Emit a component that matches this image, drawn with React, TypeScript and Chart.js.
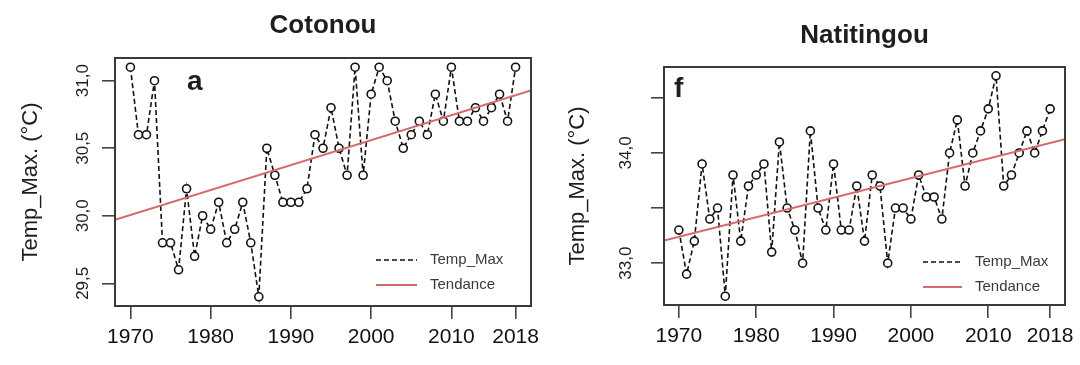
import React, { useEffect, useRef } from "react";
import { Chart, registerables } from "chart.js";

Chart.register(...registerables);

// ---------- data ----------
const years = [
  1970, 1971, 1972, 1973, 1974, 1975, 1976, 1977, 1978, 1979,
  1980, 1981, 1982, 1983, 1984, 1985, 1986, 1987, 1988, 1989,
  1990, 1991, 1992, 1993, 1994, 1995, 1996, 1997, 1998, 1999,
  2000, 2001, 2002, 2003, 2004, 2005, 2006, 2007, 2008, 2009,
  2010, 2011, 2012, 2013, 2014, 2015, 2016, 2017, 2018,
];

const cotonouTempMax = [
  31.1, 30.6, 30.6, 31.0, 29.8, 29.8, 29.6, 30.2, 29.7, 30.0,
  29.9, 30.1, 29.8, 29.9, 30.1, 29.8, 29.4, 30.5, 30.3, 30.1,
  30.1, 30.1, 30.2, 30.6, 30.5, 30.8, 30.5, 30.3, 31.1, 30.3,
  30.9, 31.1, 31.0, 30.7, 30.5, 30.6, 30.7, 30.6, 30.9, 30.7,
  31.1, 30.7, 30.7, 30.8, 30.7, 30.8, 30.9, 30.7, 31.1,
];

const natitingouTempMax = [
  33.3, 32.9, 33.2, 33.9, 33.4, 33.5, 32.7, 33.8, 33.2, 33.7,
  33.8, 33.9, 33.1, 34.1, 33.5, 33.3, 33.0, 34.2, 33.5, 33.3,
  33.9, 33.3, 33.3, 33.7, 33.2, 33.8, 33.7, 33.0, 33.5, 33.5,
  33.4, 33.8, 33.6, 33.6, 33.4, 34.0, 34.3, 33.7, 34.0, 34.2,
  34.4, 34.7, 33.7, 33.8, 34.0, 34.2, 34.0, 34.2, 34.4,
];

const xTickValues = [1970, 1980, 1990, 2000, 2010, 2018];
const xTickLabels = ["1970", "1980", "1990", "2000", "2010", "2018"];

const cotonouYTicks = [29.5, 30.0, 30.5, 31.0];
const cotonouYTickLabels = ["29,5", "30,0", "30,5", "31,0"];

const natitingouYTicks = [33.0, 33.5, 34.0, 34.5];
const natitingouYTickLabels = ["33,0", "", "34,0", ""];

const panelTitles = ["Cotonou", "Natitingou"];
const panelLetters = ["a", "f"];
const yAxisTitle = "Temp_Max. (°C)";
const seriesName = "Temp_Max";
const trendName = "Tendance";

// ---------- helpers ----------
const FONT = "'Liberation Sans', Arial, sans-serif";
const TREND_COLOR = "#d66a6a";

function rRange(vals: number[]): [number, number] {
  const lo = Math.min(...vals);
  const hi = Math.max(...vals);
  const d = (hi - lo) * 0.04;
  return [lo - d, hi + d];
}

function linearFit(xs: number[], ys: number[]) {
  const n = xs.length;
  const mx = xs.reduce((a, b) => a + b, 0) / n;
  const my = ys.reduce((a, b) => a + b, 0) / n;
  let sxy = 0;
  let sxx = 0;
  for (let i = 0; i < n; i++) {
    sxy += (xs[i] - mx) * (ys[i] - my);
    sxx += (xs[i] - mx) * (xs[i] - mx);
  }
  const slope = sxy / sxx;
  return (x: number) => my + slope * (x - mx);
}

const decorPlugin = {
  id: "rDecor",
  afterDraw(chart: any, _args: any, o: any) {
    const ctx = chart.ctx;
    const ca = chart.chartArea;
    const yScale = chart.scales.y;
    ctx.save();

    // box
    ctx.strokeStyle = "#3a3a3a";
    ctx.lineWidth = 2;
    ctx.setLineDash([]);
    ctx.strokeRect(ca.left, ca.top, ca.right - ca.left, ca.bottom - ca.top);

    // title
    ctx.fillStyle = "#1e1e1e";
    ctx.font = `bold 26px ${FONT}`;
    ctx.textAlign = "center";
    ctx.textBaseline = "middle";
    ctx.fillText(o.title, (ca.left + ca.right) / 2, o.titleY);

    // panel letter
    ctx.font = `bold 28px ${FONT}`;
    ctx.textAlign = "left";
    ctx.textBaseline = "alphabetic";
    ctx.fillText(o.letter, o.letterX, o.letterY);

    // y tick labels (rotated, R style)
    ctx.font = `17px ${FONT}`;
    ctx.fillStyle = "#1e1e1e";
    ctx.textAlign = "center";
    ctx.textBaseline = "middle";
    yScale.ticks.forEach((t: any, i: number) => {
      const lab = o.yLabels[i];
      if (!lab) return;
      const py = yScale.getPixelForValue(t.value);
      ctx.save();
      ctx.translate(o.yTickLabelX, py);
      ctx.rotate(-Math.PI / 2);
      ctx.fillText(lab, 0, 0);
      ctx.restore();
    });

    // y axis title
    ctx.font = `22px ${FONT}`;
    ctx.save();
    ctx.translate(o.yTitleX, (ca.top + ca.bottom) / 2);
    ctx.rotate(-Math.PI / 2);
    ctx.fillText(yAxisTitle, 0, 0);
    ctx.restore();

    // legend
    const lg = o.legend;
    ctx.lineWidth = 1.7;
    ctx.strokeStyle = "#111";
    ctx.setLineDash([5, 3]);
    ctx.beginPath();
    ctx.moveTo(lg.x1, lg.y1);
    ctx.lineTo(lg.x2, lg.y1);
    ctx.stroke();
    ctx.setLineDash([]);
    ctx.strokeStyle = TREND_COLOR;
    ctx.lineWidth = 2;
    ctx.beginPath();
    ctx.moveTo(lg.x1, lg.y2);
    ctx.lineTo(lg.x2, lg.y2);
    ctx.stroke();
    ctx.font = `15px ${FONT}`;
    ctx.fillStyle = "#3a3a3a";
    ctx.textAlign = "left";
    ctx.textBaseline = "middle";
    ctx.fillText(seriesName, lg.tx, lg.y1);
    ctx.fillText(trendName, lg.tx, lg.y2);

    ctx.restore();
  },
};

type PanelProps = {
  values: number[];
  yTicks: number[];
  yLabels: string[];
  title: string;
  letter: string;
  pad: { top: number; right: number; bottom: number; left: number };
  decor: any;
};

function Panel({ values, yTicks, yLabels, title, letter, pad, decor }: PanelProps) {
  const ref = useRef<HTMLCanvasElement | null>(null);

  useEffect(() => {
    if (!ref.current) return;
    const [xMin, xMax] = rRange(years);
    const [yMin, yMax] = rRange(values);
    const trend = linearFit(years, values);

    const chart = new Chart(ref.current, {
      type: "line",
      data: {
        datasets: [
          {
            label: trendName,
            data: [
              { x: xMin, y: trend(xMin) },
              { x: xMax, y: trend(xMax) },
            ],
            borderColor: TREND_COLOR,
            borderWidth: 2,
            pointRadius: 0,
            order: 0,
          },
          {
            label: seriesName,
            data: years.map((yr, i) => ({ x: yr, y: values[i] })),
            borderColor: "#111",
            borderWidth: 1.6,
            borderDash: [5, 3],
            pointRadius: 4,
            pointBorderWidth: 1.6,
            pointBorderColor: "#111",
            pointBackgroundColor: "#fff",
            tension: 0,
            order: 1,
          },
        ],
      },
      options: {
        animation: false,
        responsive: false,
        devicePixelRatio: 1,
        layout: { padding: { top: pad.top, right: pad.right, left: 0, bottom: 0 } },
        plugins: {
          legend: { display: false },
          tooltip: { enabled: false },
          rDecor: { ...decor, title, letter, yLabels },
        } as any,
        scales: {
          x: {
            type: "linear",
            min: xMin,
            max: xMax,
            border: { display: false },
            grid: {
              display: true,
              drawOnChartArea: false,
              drawTicks: true,
              tickLength: 13,
              color: "#444",
              lineWidth: 1.6,
            },
            ticks: {
              color: "#111",
              font: { family: FONT, size: 21 },
              padding: 6,
              maxRotation: 0,
              minRotation: 0,
              autoSkip: false,
              callback: (v: any) => {
                const i = xTickValues.indexOf(Number(v));
                return i >= 0 ? xTickLabels[i] : "";
              },
            },
            afterBuildTicks: (s: any) => {
              s.ticks = xTickValues.map((v) => ({ value: v }));
            },
            afterFit: (s: any) => {
              s.height = pad.bottom;
              s.paddingLeft = 0;
              s.paddingRight = 0;
            },
          },
          y: {
            type: "linear",
            min: yMin,
            max: yMax,
            border: { display: false },
            grid: {
              display: true,
              drawOnChartArea: false,
              drawTicks: true,
              tickLength: 13,
              color: "#444",
              lineWidth: 1.6,
            },
            ticks: { display: false },
            afterBuildTicks: (s: any) => {
              s.ticks = yTicks.map((v) => ({ value: v }));
            },
            afterFit: (s: any) => {
              s.width = pad.left;
              s.paddingTop = 0;
              s.paddingBottom = 0;
            },
          },
        },
      } as any,
      plugins: [decorPlugin],
    });
    return () => chart.destroy();
  }, []);

  return <canvas ref={ref} width={540} height={365} style={{ width: 540, height: 365, display: "block" }} />;
}

export default function App() {
  return (
    <div style={{ position: "absolute", left: 0, top: 0, width: 1080, height: 365, background: "#fff" }}>
      <div style={{ position: "absolute", left: 0, top: 0 }}>
        <Panel
          values={cotonouTempMax}
          yTicks={cotonouYTicks}
          yLabels={cotonouYTickLabels}
          title={panelTitles[0]}
          letter={panelLetters[0]}
          pad={{ left: 115, top: 58, right: 9, bottom: 59 }}
          decor={{
            titleY: 26,
            letterX: 187,
            letterY: 90,
            yTickLabelX: 83,
            yTitleX: 31,
            legend: { x1: 376, x2: 417, y1: 260, y2: 285, tx: 430 },
          }}
        />
      </div>
      <div style={{ position: "absolute", left: 540, top: 0 }}>
        <Panel
          values={natitingouTempMax}
          yTicks={natitingouYTicks}
          yLabels={natitingouYTickLabels}
          title={panelTitles[1]}
          letter={panelLetters[1]}
          pad={{ left: 124, top: 67, right: 15, bottom: 60 }}
          decor={{
            titleY: 36,
            letterX: 134,
            letterY: 97,
            yTickLabelX: 86,
            yTitleX: 38,
            legend: { x1: 383, x2: 422, y1: 262, y2: 287, tx: 435 },
          }}
        />
      </div>
    </div>
  );
}
